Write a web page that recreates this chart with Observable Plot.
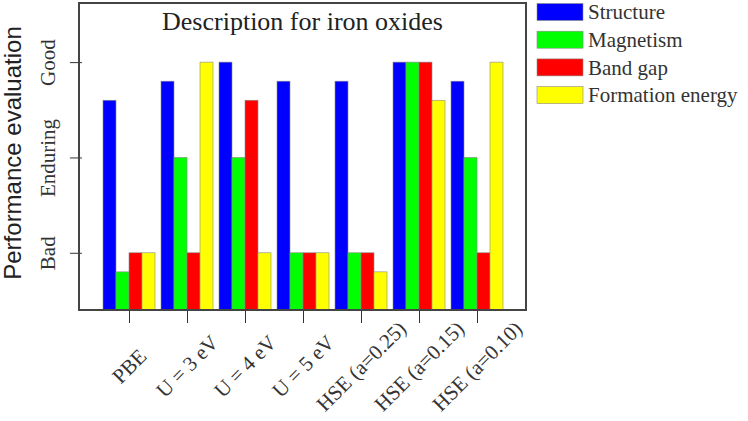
<!DOCTYPE html>
<html>
<head>
<meta charset="utf-8">
<script src="https://cdn.jsdelivr.net/npm/d3@7"></script>
<script src="https://cdn.jsdelivr.net/npm/@observablehq/plot@0.6"></script>
<style>
  html, body { margin: 0; padding: 0; background: #fff; }
  #chart svg { display: block; }
</style>
</head>
<body>
<div id="chart"></div>
<script>
const categories = ["PBE", "U = 3 eV", "U = 4 eV", "U = 5 eV", "HSE (a=0.25)", "HSE (a=0.15)", "HSE (a=0.10)"];
const seriesNames = ["Structure", "Magnetism", "Band gap", "Formation energy"];
const seriesColors = ["#0000ff", "#00ff00", "#ff0000", "#ffff00"];
const structure = [2.6, 2.8, 3.0, 2.8, 2.8, 3.0, 2.8];
const magnetism = [0.8, 2.0, 2.0, 1.0, 1.0, 3.0, 2.0];
const bandGap   = [1.0, 1.0, 2.6, 1.0, 1.0, 3.0, 1.0];
const formation = [1.0, 3.0, 1.0, 1.0, 0.8, 2.6, 3.0];
const yTicks = [1, 2, 3];
const yTickLabels = ["Bad", "Enduring", "Good"];
const titleText = "Description for iron oxides";
const yLabelText = "Performance evaluation";

const seriesValues = [structure, magnetism, bandGap, formation];
const data = [];
categories.forEach((c, i) => {
  seriesNames.forEach((s, j) => {
    data.push({category: c, series: s, value: seriesValues[j][i]});
  });
});

const W = 748, H = 421;
const mL = 79, mR = 222, mT = 3, mB = 111;
const padIn = 0.07, padOut = 0.342;
const step = (W - mL - mR) / (categories.length - padIn + 2 * padOut);
const facetOffset = padOut * step; // distance from frame left to first facet

const plot = Plot.plot({
  width: W, height: H,
  marginLeft: mL, marginRight: mR, marginTop: mT, marginBottom: mB,
  style: {fontFamily: "'Liberation Serif', 'Times New Roman', serif", background: "#fff", color: "#333"},
  fx: {domain: categories, paddingInner: padIn, paddingOuter: padOut, label: null},
  x: {domain: seriesNames, padding: 0, axis: null},
  y: {domain: [0.4, 3.62]},
  color: {domain: seriesNames, range: seriesColors},
  marks: [
    Plot.barY(data, {fx: "category", x: "series", y: "value", fill: "series", clip: true,
                     stroke: "#8a8a8a", strokeWidth: 0.6}),
    Plot.axisY({ticks: yTicks, tickFormat: d => yTickLabels[yTicks.indexOf(d)], tickRotate: -90,
                tickSize: 12, tickPadding: 15, fontSize: 21, label: null, stroke: "#333", fill: "#333",
                dx: -facetOffset}),
    Plot.axisFx({anchor: "bottom", tickSize: 13, tickRotate: -45, textAnchor: "middle", tickPadding: 43,
                 fontSize: 21, label: null, stroke: "#333", fill: "#333"})
  ]
});

const svg = d3.select(plot);
// frame
svg.append("rect")
  .attr("x", mL).attr("y", mT)
  .attr("width", W - mL - mR).attr("height", H - mT - mB)
  .attr("fill", "none").attr("stroke", "#444").attr("stroke-width", 2);
// title
svg.append("text")
  .attr("x", (mL + W - mR) / 2).attr("y", 30)
  .attr("text-anchor", "middle")
  .style("font-family", "'Liberation Serif', serif").style("font-size", "26px")
  .attr("fill", "#222").text(titleText);
// y label
svg.append("text")
  .attr("transform", "translate(21,153) rotate(-90)")
  .attr("text-anchor", "middle")
  .style("font-family", "'Liberation Sans', Arial, sans-serif").style("font-size", "24px")
  .attr("fill", "#222").text(yLabelText);
// legend
const lg = svg.append("g").attr("text-anchor", "start");
seriesNames.forEach((s, i) => {
  const cy = 12 + i * 27.7;
  lg.append("rect").attr("x", 537).attr("y", cy - 8.5).attr("width", 46).attr("height", 17)
    .attr("fill", seriesColors[i]).attr("stroke", "#8a8a8a").attr("stroke-width", 0.6);
  lg.append("text").attr("x", 588).attr("y", cy).attr("dy", "0.35em")
    .attr("text-anchor", "start")
    .style("font-family", "'Liberation Serif', serif").style("font-size", "21px")
    .attr("fill", "#333").text(s);
});

document.getElementById("chart").appendChild(plot);
</script>
</body>
</html>
